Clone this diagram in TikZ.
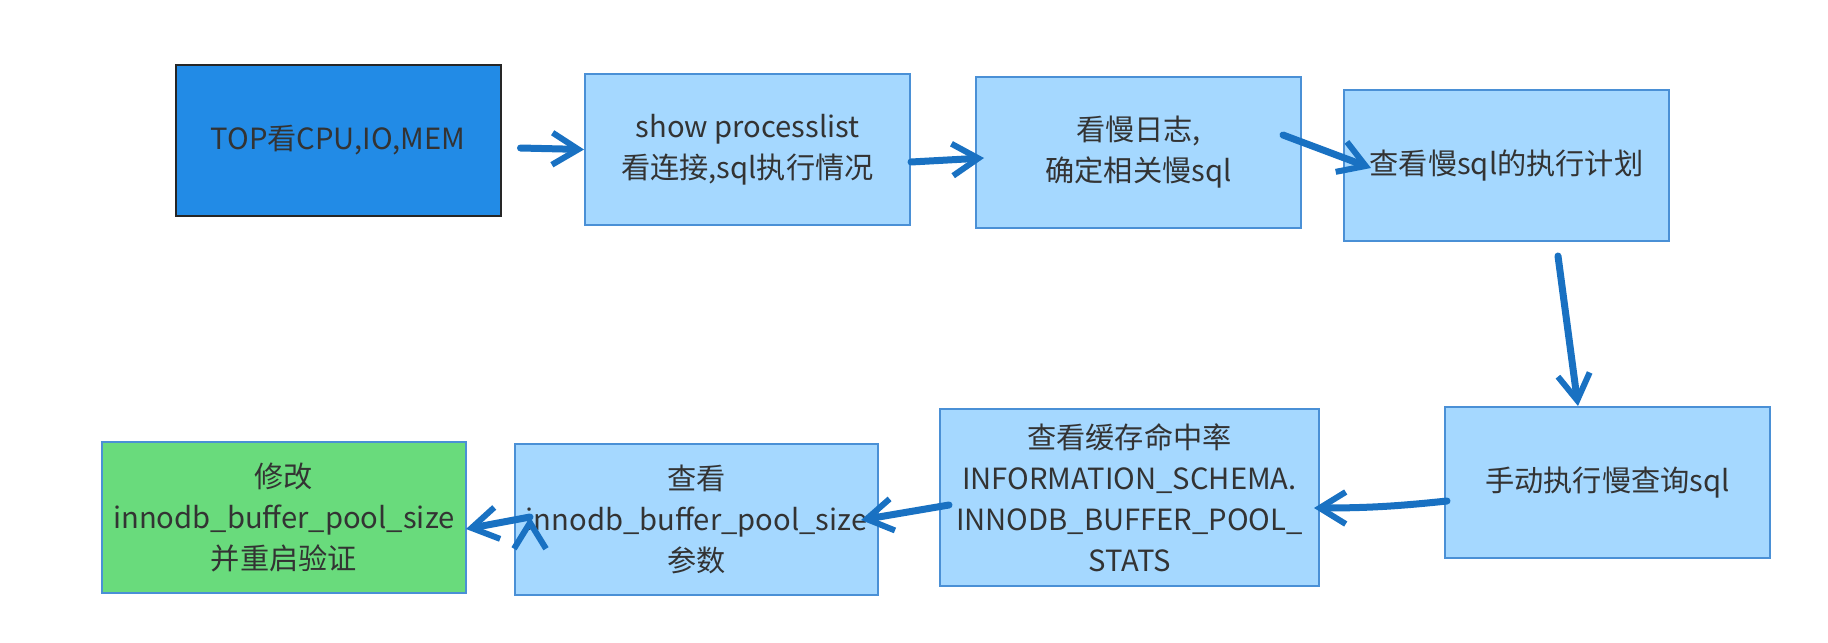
\documentclass[tikz,border=0pt]{standalone}
\usepackage{fontspec}
\setmainfont{Noto Sans CJK SC}
\usepackage{tikz}
\usetikzlibrary{arrows.meta,positioning}

\definecolor{boxfill}{HTML}{A5D8FF}
\definecolor{boxline}{HTML}{4A90D6}
\definecolor{topfill}{HTML}{228BE6}
\definecolor{fixfill}{HTML}{69DB7C}
\definecolor{flowblue}{HTML}{1971C2}
\definecolor{ink}{HTML}{333333}

\begin{document}
\begin{tikzpicture}[x=0.5pt,y=-0.5pt,auto]
          \tikzstyle{stepbox}=[draw=boxline,fill=boxfill,line width=1pt,align=center,
            text=ink,font=\fontsize{14.6}{20.5}\selectfont,inner sep=0pt,
            minimum width=162.5pt,minimum height=75.5pt]
          \tikzstyle{flow}=[draw=flowblue,line width=3.5pt,line cap=round,
            -{Straight Barb[length=13pt,width=16pt,line width=3pt]}]
          \useasboundingbox (0,0) rectangle (1828,643);

          \node[stepbox,fill=topfill,draw=black!85] (top) at (338,140.5) {TOP看CPU,IO,MEM};
          \node[stepbox] (proc)    at (747.5,149.5)  {show processlist\\看连接,sql执行情况};
          \node[stepbox] (slowlog) at (1138.5,152.5) {看慢日志,\\确定相关慢sql};
          \node[stepbox] (plan)    at (1506.5,165.5) {查看慢sql的执行计划};
          \node[stepbox] (run)     at (1607.5,482.5) {手动执行慢查询sql};
          \node[stepbox,minimum width=189.5pt,minimum height=88.5pt] (hitrate) at (1129.5,497.5)
            {查看缓存命中率\\INFORMATION\_SCHEMA.\\INNODB\_BUFFER\_POOL\_\\STATS};
          \node[stepbox,minimum width=181.5pt] (param) at (696.5,519)
            {查看\\innodb\_buffer\_pool\_size\\参数};
          \node[stepbox,fill=fixfill,minimum width=182pt] (fix) at (284,517.5)
            {修改\\innodb\_buffer\_pool\_size\\并重启验证};

          \path[flow]
          ([shift={(19,7.5)}]top.east)       edge (proc.west)
          ([shift={(0,12.5)}]proc.east)      edge ([shift={(9,5.5)}]slowlog.west)
          ([shift={(-19,-17.5)}]slowlog.east) edge ([shift={(28,2.5)}]plan.west)
          ([shift={(51.5,14)}]plan.south)    edge ([shift={(-29.5,0)}]run.north)
          ([shift={(3,18.5)}]run.west)       edge [bend left=3] ([shift={(-6,10.5)}]hitrate.east)
          ([shift={(10,7.5)}]hitrate.west)   edge ([shift={(-18,1)}]param.east)
          ([shift={(16,-2)}]param.west)      edge ([shift={(-1,11.5)}]fix.east);
        \end{tikzpicture}
\end{document}
